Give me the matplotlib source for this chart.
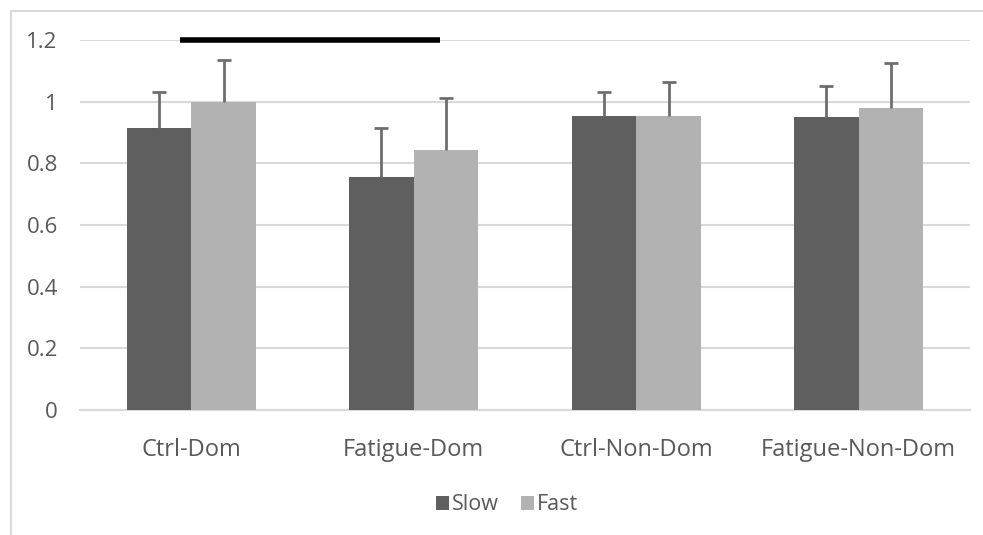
import numpy as np
import matplotlib.pyplot as plt
from matplotlib.patches import Rectangle

categories = ["Ctrl-Dom", "Fatigue-Dom", "Ctrl-Non-Dom", "Fatigue-Non-Dom"]
slow = [0.915, 0.756, 0.955, 0.949]
fast = [1.0, 0.843, 0.955, 0.981]
slow_err = [0.116, 0.16, 0.075, 0.102]
fast_err = [0.135, 0.17, 0.11, 0.146]
yticks = [0, 0.2, 0.4, 0.6, 0.8, 1, 1.2]
ytick_labels = ["0", "0.2", "0.4", "0.6", "0.8", "1", "1.2"]

plt.rcParams["font.family"] = ["Open Sans", "DejaVu Sans"]
text_color = "#595959"
grid_color = "#d9d9d9"

fig = plt.figure(figsize=(9.83, 5.35), dpi=100)
ax = fig.add_axes([80 / 983, 1 - 410 / 535, 890 / 983, 370 / 535])

# chart border (only top/left visible in the crop)
fig.patches.append(Rectangle((11 / 983, -0.1), 1.2, 1 - 11 / 535 + 0.1,
                             transform=fig.transFigure, fill=False,
                             edgecolor=grid_color, linewidth=1.5))

x = np.arange(len(categories))
w = 0.29
ax.bar(x - w / 2, slow, w, color="#5f5f5f", label="Slow", zorder=3)
ax.bar(x + w / 2, fast, w, color="#b2b2b2", label="Fast", zorder=3)

# upper-only error bars
err_kw = dict(fmt="none", ecolor="#6e6e6e", elinewidth=2, capsize=5,
              capthick=2, zorder=4)
for pos, vals, errs in [(x - w / 2, slow, slow_err), (x + w / 2, fast, fast_err)]:
    eb = ax.errorbar(pos, vals, yerr=[np.zeros(4), errs], **err_kw)
    eb[1][0].set_visible(False)

# significance bar
ax.plot([-0.05, 1.12], [1.2, 1.2], color="black", linewidth=4,
        solid_capstyle="butt", clip_on=False, zorder=5)

ax.set_xlim(-0.5, 3.5)
ax.set_ylim(0, 1.2)
ax.set_yticks(yticks)
ax.set_yticklabels(ytick_labels)
ax.set_xticks(x)
ax.set_xticklabels(categories)
ax.grid(axis="y", color=grid_color, linewidth=1.5, zorder=0)
for s in ["top", "right", "left"]:
    ax.spines[s].set_visible(False)
ax.spines["bottom"].set_color(grid_color)
ax.spines["bottom"].set_linewidth(1.5)
ax.tick_params(axis="y", length=0, pad=16, labelsize=16, labelcolor=text_color)
ax.tick_params(axis="x", length=0, pad=20, labelsize=17, labelcolor=text_color)

fig.legend(loc="center", bbox_to_anchor=(507 / 983, 1 - 505 / 535), ncol=2,
           frameon=False, fontsize=15.5, labelcolor=text_color,
           handlelength=0.6, handleheight=0.6, handletextpad=0.15,
           columnspacing=1.0)

fig.savefig("out.png", dpi=100, facecolor="white")
